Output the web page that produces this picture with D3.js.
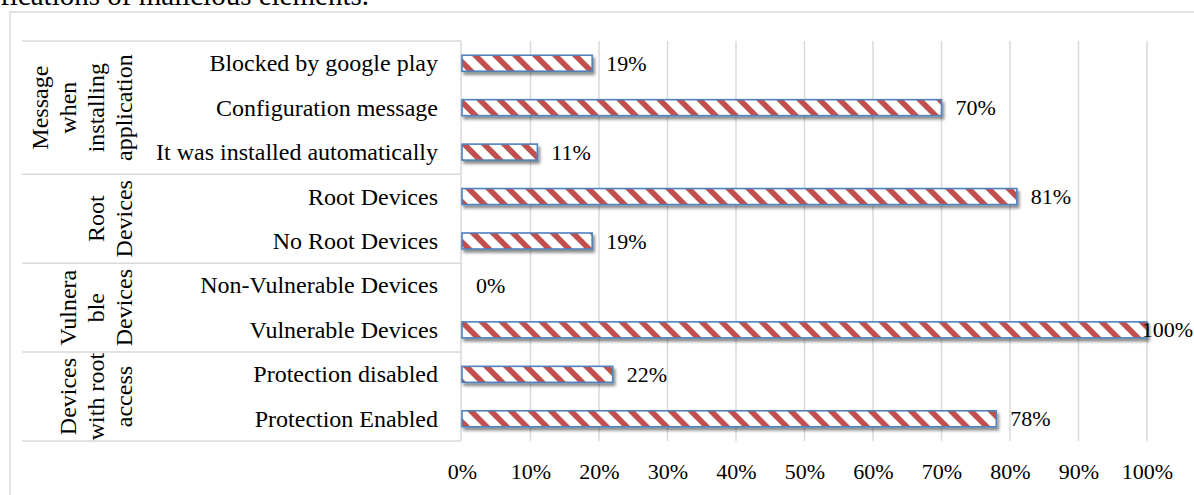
<!DOCTYPE html>
<html>
<head>
<meta charset="utf-8">
<script src="https://cdn.jsdelivr.net/npm/d3@7"></script>
<style>
  html, body { margin: 0; padding: 0; background: #ffffff; overflow: hidden; }
  svg { display: block; font-family: "Liberation Serif", "Times New Roman", serif; }
</style>
</head>
<body>
<svg id="chart" width="1194" height="495"></svg>
<script>
// ---- data ----
const categories = [
  "Blocked by google play",
  "Configuration message",
  "It was installed automatically",
  "Root Devices",
  "No Root Devices",
  "Non-Vulnerable Devices",
  "Vulnerable Devices",
  "Protection disabled",
  "Protection Enabled"
];
const values = [19, 70, 11, 81, 19, 0, 100, 22, 78];
const groupLabels = [
  ["Message", "when", "installing", "application"],
  ["Root", "Devices"],
  ["Vulnera", "ble", "Devices"],
  ["Devices", "with root", "access"]
];
const groupSizes = [3, 2, 2, 2];
const tickValues = [0, 10, 20, 30, 40, 50, 60, 70, 80, 90, 100];
const headerText = "ifications of malicious elements.";

// ---- layout ----
const svg = d3.select("#chart");
const W = 1194, H = 495;
const plotLeft = 462, plotRight = 1147, plotTop = 41, plotBottom = 441;
const tableLeft = 22;
const gridColor = "#d9d9d9";

const x = d3.scaleLinear().domain([0, 100]).range([plotLeft, plotRight]);
const y = d3.scaleBand().domain(categories).range([plotTop, plotBottom]);
const barH = 16;

// defs: pattern + shadow
const defs = svg.append("defs");
const pat = defs.append("pattern")
  .attr("id", "stripes")
  .attr("patternUnits", "userSpaceOnUse")
  .attr("width", 20).attr("height", 20);
pat.append("rect").attr("width", 20).attr("height", 20).attr("fill", "#ffffff");
pat.append("path")
  .attr("d", "M-5,-5 L25,25 M-5,15 L5,25 M15,-5 L25,5")
  .attr("stroke", "#c0504d").attr("stroke-width", 5.6);

const f = defs.append("filter").attr("id", "shadow")
  .attr("x", "-5%").attr("y", "-50%").attr("width", "115%").attr("height", "250%");
f.append("feDropShadow").attr("dx", 2).attr("dy", 3).attr("stdDeviation", 1.8)
  .attr("flood-color", "#000").attr("flood-opacity", 0.45);

// header text (cut off at top, as in the source page)
svg.append("text")
  .attr("x", 369).attr("y", 4.5)
  .attr("text-anchor", "end")
  .attr("font-size", 29)
  .attr("fill", "#000")
  .text(headerText);

// outer chart border
svg.append("rect")
  .attr("x", 10).attr("y", 12)
  .attr("width", W + 20).attr("height", H + 20)
  .attr("fill", "none").attr("stroke", gridColor).attr("stroke-width", 1.5);

// gridlines
svg.append("g").selectAll("line")
  .data(tickValues.filter(d => d > 0))
  .join("line")
  .attr("x1", d => x(d)).attr("x2", d => x(d))
  .attr("y1", plotTop).attr("y2", plotBottom)
  .attr("stroke", gridColor).attr("stroke-width", 1.5);

// vertical axis line
svg.append("line")
  .attr("x1", plotLeft - 1).attr("x2", plotLeft - 1)
  .attr("y1", plotTop).attr("y2", plotBottom)
  .attr("stroke", gridColor).attr("stroke-width", 1.5);

// group separators (horizontal lines in the label table)
const bounds = [0];
groupSizes.forEach(s => bounds.push(bounds[bounds.length - 1] + s));
svg.append("g").selectAll("line")
  .data(bounds)
  .join("line")
  .attr("x1", tableLeft).attr("x2", plotLeft - 1)
  .attr("y1", d => plotTop + d * y.step())
  .attr("y2", d => plotTop + d * y.step())
  .attr("stroke", gridColor).attr("stroke-width", 1.5);

// category labels
svg.append("g").selectAll("text")
  .data(categories)
  .join("text")
  .attr("x", 438)
  .attr("y", d => y(d) + y.bandwidth() / 2)
  .attr("text-anchor", "end")
  .attr("dominant-baseline", "central")
  .attr("font-size", 24)
  .attr("fill", "#000")
  .text(d => d);

// group labels (rotated, multi-line)
groupLabels.forEach((lines, gi) => {
  const yc = plotTop + (bounds[gi] + groupSizes[gi] / 2) * y.step();
  const n = lines.length;
  lines.forEach((ln, i) => {
    const xc = 124 - (n - 1 - i) * 28;
    svg.append("text")
      .attr("transform", `translate(${xc},${yc}) rotate(-90)`)
      .attr("text-anchor", "middle")
      .attr("dominant-baseline", "central")
      .attr("font-size", 24)
      .attr("fill", "#000")
      .text(ln);
  });
});

// bars
const bars = svg.append("g");
bars.selectAll("rect")
  .data(categories.map((c, i) => ({ c, v: values[i] })).filter(d => d.v > 0))
  .join("rect")
  .attr("x", x(0))
  .attr("y", d => y(d.c) + y.bandwidth() / 2 - barH / 2)
  .attr("width", d => x(d.v) - x(0))
  .attr("height", barH)
  .attr("fill", "url(#stripes)")
  .attr("stroke", "#4f81bd")
  .attr("stroke-width", 1.6)
  .attr("filter", "url(#shadow)");

// data labels
const labels = svg.append("g").selectAll("text")
  .data(categories.map((c, i) => ({ c, v: values[i] })))
  .join("text")
  .attr("x", d => x(d.v) + 14)
  .attr("y", d => y(d.c) + y.bandwidth() / 2)
  .attr("dominant-baseline", "central")
  .attr("font-size", 22)
  .attr("fill", "#000")
  .text(d => d.v + "%");
labels.each(function () {
  const t = d3.select(this);
  const w = this.getComputedTextLength();
  const xx = +t.attr("x");
  if (xx + w > W - 1) t.attr("x", W - 1 - w);
});

// x axis tick labels
const axis = d3.axisBottom(x)
  .tickValues(tickValues)
  .tickFormat(d => d + "%")
  .tickSize(0)
  .tickPadding(0);
const gx = svg.append("g")
  .attr("transform", `translate(0,${plotBottom})`)
  .call(axis);
gx.select(".domain").remove();
gx.selectAll("text")
  .attr("font-family", "Liberation Serif, Times New Roman, serif")
  .attr("font-size", 22)
  .attr("fill", "#000")
  .attr("dy", null)
  .attr("y", 38);
</script>
</body>
</html>
